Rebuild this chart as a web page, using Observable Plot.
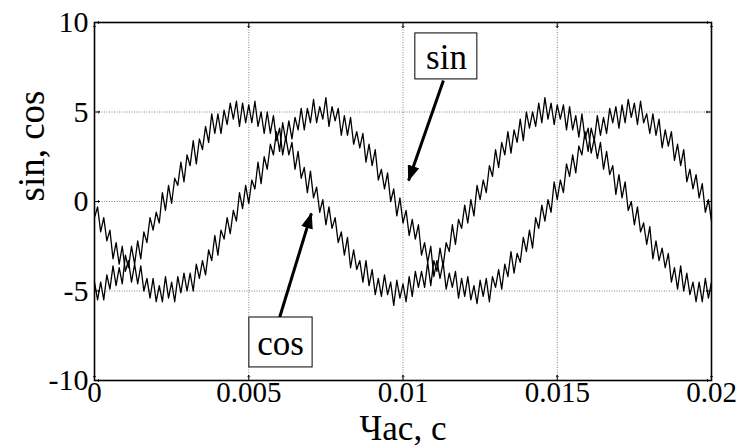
<!DOCTYPE html>
<html><head><meta charset="utf-8">
<script src="https://cdn.jsdelivr.net/npm/d3@7"></script>
<script src="https://cdn.jsdelivr.net/npm/@observablehq/plot@0.6"></script>
<style>body{margin:0;background:#fff} svg{display:block}</style>
</head><body><div id="chart"></div>
<script>
// sampling step of the traces (s)
const dt = 0.0001;
// "cos" trace at t = 0, 0.0001, ... 0.02
const cosValues = [
-4.5,-5.5,-4.5,-5.5,-4.1,-4.9,-3.6,-4.7,-3.7,-4.6,
-3.0,-3.7,-2.5,-3.5,-2.2,-3.2,-1.7,-2.3,-0.9,-1.6,
-0.6,-1.2,0.5,-0.5,0.9,-0.1,1.3,0.9,2.2,1.1,
2.6,2.0,3.4,2.1,3.5,2.9,4.2,3.3,4.9,3.8,
4.9,3.8,5.1,4.3,5.5,4.6,5.6,4.2,5.5,4.4,
5.4,4.4,5.6,4.2,5.0,3.8,5.0,3.8,4.8,3.4,
4.1,2.6,3.6,2.6,3.3,1.8,2.8,1.3,1.9,0.5,
1.7,0.2,0.8,-0.6,0.1,-1.3,-0.3,-1.5,-0.9,-2.3,
-1.7,-3.0,-2.0,-3.7,-2.7,-3.8,-3.3,-4.5,-3.3,-4.7,
-3.8,-5.2,-4.3,-5.3,-4.1,-5.2,-4.5,-5.8,-4.4,-5.4,
-4.6,-5.6,-4.2,-5.3,-3.9,-4.8,-3.9,-4.8,-3.4,-4.7,
-3.3,-3.9,-2.6,-3.6,-2.3,-2.8,-1.3,-2.4,-1.0,-1.5,
-0.2,-1.2,0.1,-0.8,0.9,0.1,1.2,0.5,2.0,1.4,
2.9,1.9,3.3,2.6,3.9,2.7,4.0,3.3,4.6,3.4,
5.0,4.1,5.0,4.2,5.5,4.4,5.8,4.6,5.5,4.3,
5.4,4.6,5.4,4.0,5.3,4.0,4.8,3.6,4.9,3.5,
4.1,2.7,3.5,2.4,3.3,1.8,2.8,1.5,2.0,0.4,
1.5,0.2,1.1,-0.5,0.0,-1.3,-0.3,-1.7,-1.2,-2.4,
-1.4,-3.2,-2.2,-3.3,-2.6,-3.7,-2.9,-4.5,-3.7,-4.9,
-3.6,-5.0,-4.0,-5.2,-4.5,-5.6,-4.5,-5.6,-4.3,-5.4,
-4.5];
// "sin" trace
const sinValues = [
-0.9,-0.3,-1.7,-0.9,-2.2,-1.6,-3.2,-2.3,-3.5,-2.5,
-3.9,-3.3,-4.5,-3.5,-4.6,-3.6,-5.0,-4.3,-5.4,-4.3,
-5.6,-4.7,-5.6,-4.2,-5.4,-4.5,-5.6,-4.2,-5.1,-4.0,
-5.0,-4.0,-5.0,-3.5,-4.3,-3.3,-4.1,-2.7,-3.3,-1.9,
-3.0,-1.6,-2.1,-0.9,-1.8,-0.5,-1.1,0.5,-0.4,0.9,
-0.1,1.2,0.7,2.2,1.0,2.5,1.8,3.2,2.6,3.9,
2.8,4.4,3.4,4.5,3.5,4.7,4.0,5.2,4.0,5.2,
4.4,5.7,4.4,5.3,4.6,5.8,4.2,5.3,4.5,5.2,
3.7,4.8,3.7,4.7,3.2,3.9,3.0,3.8,2.2,3.2,
2.0,2.9,1.2,1.8,0.7,1.6,0.0,0.7,-0.8,0.2,
-1.2,-0.5,-1.9,-1.0,-2.1,-1.3,-3.0,-2.3,-3.4,-2.5,
-4.2,-3.3,-4.3,-3.4,-4.9,-4.0,-4.8,-3.9,-5.4,-4.3,
-5.3,-4.2,-5.5,-4.7,-5.7,-4.4,-5.3,-4.3,-5.6,-4.2,
-4.8,-3.8,-4.9,-3.5,-4.2,-2.8,-4.0,-2.9,-3.4,-2.0,
-2.8,-1.6,-2.6,-0.9,-1.5,-0.2,-1.1,0.1,-0.6,1.1,
0.1,1.2,0.5,2.1,1.4,2.6,1.6,3.1,2.6,3.9,
2.8,4.1,3.4,4.8,3.7,4.7,3.8,5.2,4.4,5.3,
4.1,5.4,4.4,5.7,4.7,5.5,4.3,5.6,4.4,4.9,
3.8,4.9,3.7,4.6,3.0,4.0,3.1,3.9,2.3,3.2,
2.0,2.9,1.1,1.8,0.7,1.5,0.2,1.0,-0.6,0.1,
-1.1];

const xTicks = [0, 0.005, 0.01, 0.015, 0.02];
const xTickLabels = ["0", "0.005", "0.01", "0.015", "0.02"];
const yTicks = [-10, -5, 0, 5, 10];
const yTickLabels = ["-10", "-5", "0", "5", "10"];
const xLabel = "Час, с";
const yLabel = "sin, cos";

// annotation boxes (data units) and arrows
const noteNames = ["sin", "cos"];
const noteX = [0.01141, 0.00603];
const noteY = [8.04, -7.93];
const boxX1 = [0.01040, 0.00502];
const boxX2 = [0.01241, 0.00707];
const boxY1 = [6.82, -9.27];
const boxY2 = [9.39, -6.48];
const arrowFromX = [0.01131, 0.00600];
const arrowFromY = [6.76, -6.48];
const arrowToX = [0.01018, 0.00703];
const arrowToY = [1.17, -0.67];

const rows = [];
cosValues.forEach((v, i) => rows.push({t: i * dt, v, s: "cos"}));
sinValues.forEach((v, i) => rows.push({t: i * dt, v, s: "sin"}));
const notes = noteNames.map((n, i) => ({n, x: noteX[i], y: noteY[i], x1: boxX1[i], x2: boxX2[i], y1: boxY1[i], y2: boxY2[i],
  ax1: arrowFromX[i], ay1: arrowFromY[i], ax2: arrowToX[i], ay2: arrowToY[i]}));
const xl = new Map(xTicks.map((d, i) => [d, xTickLabels[i]]));
const yl = new Map(yTicks.map((d, i) => [d, yTickLabels[i]]));

const font = "'Liberation Serif', 'Times New Roman', serif";
const plot = Plot.plot({
  width: 740, height: 447,
  marginTop: 22, marginBottom: 67, marginLeft: 94, marginRight: 29,
  style: {fontFamily: font, color: "#000", background: "#fff"},
  x: {domain: [0, 0.02]},
  y: {domain: [-10, 10]},
  marks: [
    Plot.gridX(xTicks.slice(1, -1), {stroke: "#666", strokeOpacity: 1, strokeWidth: 0.8, strokeDasharray: "1,1.5"}),
    Plot.gridY(yTicks.slice(1, -1), {stroke: "#666", strokeOpacity: 1, strokeWidth: 0.8, strokeDasharray: "1,1.5"}),
    Plot.line(rows, {x: "t", y: "v", z: "s", stroke: "#000", strokeWidth: 1.3}),
    Plot.frame({stroke: "#000", strokeWidth: 1.6}),
    Plot.vectorX(xTicks, {x: d => d, frameAnchor: "bottom", length: 5, rotate: 0, anchor: "start", stroke: "#000", strokeWidth: 1}),
    Plot.vectorX(xTicks, {x: d => d, frameAnchor: "top", length: 5, rotate: 180, anchor: "start", stroke: "#000", strokeWidth: 1}),
    Plot.vectorY(yTicks, {y: d => d, frameAnchor: "left", length: 5, rotate: 90, anchor: "start", stroke: "#000", strokeWidth: 1}),
    Plot.vectorY(yTicks, {y: d => d, frameAnchor: "right", length: 5, rotate: -90, anchor: "start", stroke: "#000", strokeWidth: 1}),
    Plot.link(notes, {x1: "ax1", y1: "ay1", x2: "ax2", y2: "ay2", stroke: "#000", strokeWidth: 3}),
    Plot.rect(notes, {x1: "x1", x2: "x2", y1: "y1", y2: "y2", fill: "#fff", stroke: "#000", strokeWidth: 1}),
    Plot.text(notes, {x: "x", y: "y", text: "n", fontSize: 35, fill: "#000", lineAnchor: "middle"}),
    Plot.axisX(xTicks, {tickSize: 0, tickPadding: 1, tickFormat: d => xl.get(d), fontSize: 29, label: null}),
    Plot.axisY(yTicks, {tickSize: 0, tickPadding: 6, tickFormat: d => yl.get(d), fontSize: 30, label: null}),
    Plot.text([xLabel], {frameAnchor: "bottom", dy: 59, text: d => d, fontSize: 35, lineAnchor: "bottom", fill: "#000", ariaLabel: "xlabel"}),
    Plot.text([yLabel], {frameAnchor: "left", dx: -62, rotate: -90, text: d => d, fontSize: 37, lineAnchor: "middle", fill: "#000"})
  ]
});

// filled arrow heads
const svg = d3.select(plot);
const defs = svg.insert("defs", ":first-child");
defs.append("marker").attr("id", "ahead").attr("markerUnits", "userSpaceOnUse")
  .attr("viewBox", "0 0 16 12").attr("markerWidth", 16).attr("markerHeight", 12)
  .attr("refX", 15).attr("refY", 6).attr("orient", "auto")
  .append("path").attr("d", "M0,0L16,6L0,12Z").attr("fill", "#000");
svg.selectAll("g[aria-label='link'] path").attr("marker-end", "url(#ahead)");

document.getElementById("chart").appendChild(plot);

// widen the x-axis title horizontally, like the reference lettering
svg.selectAll("g[aria-label='xlabel'] text").each(function() {
  const b = this.getBBox();
  const cx = b.x + b.width / 2;
  const old = this.getAttribute("transform") || "";
  this.setAttribute("transform", `${old} translate(${cx},0) scale(1.14,1) translate(${-cx},0)`);
});
</script>
</body></html>
